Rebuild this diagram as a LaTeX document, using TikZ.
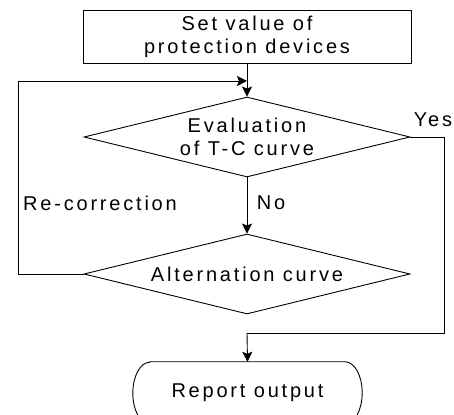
\documentclass[tikz,border=0pt]{standalone}
\usepackage{fontspec}
\setmainfont[LetterSpace=14]{Liberation Sans}
\usetikzlibrary{shapes.geometric,arrows.meta}
\begin{document}
\begin{tikzpicture}[x=1pt,y=1pt,
  every node/.style={font=\fontsize{20}{23}\selectfont, align=center},
  line/.style={line width=0.9pt},
  arr/.style={line width=0.9pt,-{Stealth[length=10pt,width=10pt,inset=2pt]}},
  boxnode/.style={draw,line width=0.9pt,minimum width=328pt,minimum height=53pt,inner sep=0pt},
  dia/.style={draw,diamond,aspect=4.075,line width=0.9pt,minimum width=326pt,minimum height=80pt,inner sep=0pt},
  lbl/.style={inner sep=0pt}]
\useasboundingbox (0,0) rectangle (454,414);
\clip (0,0) rectangle (454,414);
\node[boxnode] (set) at (247,377.5) {Set value of\\protection devices};
\node[dia] (eval) at (247,277) {Evaluation\\of T-C curve};
\node[dia] (alt) at (247,140) {Alternation curve};
\node[draw=none,minimum width=229pt,minimum height=62pt,inner sep=0pt] (rep) at (247.5,21) {Report output};
\draw[line] ([xshift=17pt]rep.north west) -- ([xshift=-17pt]rep.north east)
  arc[start angle=90,end angle=-90,x radius=17pt,y radius=31pt]
  -- ([xshift=17pt]rep.south west)
  arc[start angle=270,end angle=90,x radius=17pt,y radius=31pt] -- cycle;
\coordinate (join) at (247,333);
\coordinate (lb) at (18,140);
\coordinate (lt) at (18,333);
\coordinate (rt) at (444,277);
\coordinate (rb) at (444,81);
\coordinate (mb) at (247,81);
\draw[arr] (set.south) -- (eval.north);
\draw[arr] (alt.west) -- (lb) -- (lt) -- (join);
\draw[arr] (eval.south) -- (alt.north);
\draw[line] (eval.east) -- (rt) -- (rb) -- (mb);
\draw[arr] (mb) -- (rep.north);
\node[lbl] (yes) at (433,294) {Yes};
\node[lbl] (rc) at (100,211) {Re-correction};
\node[lbl] (no) at (271,211) {No};
\end{tikzpicture}
\end{document}
